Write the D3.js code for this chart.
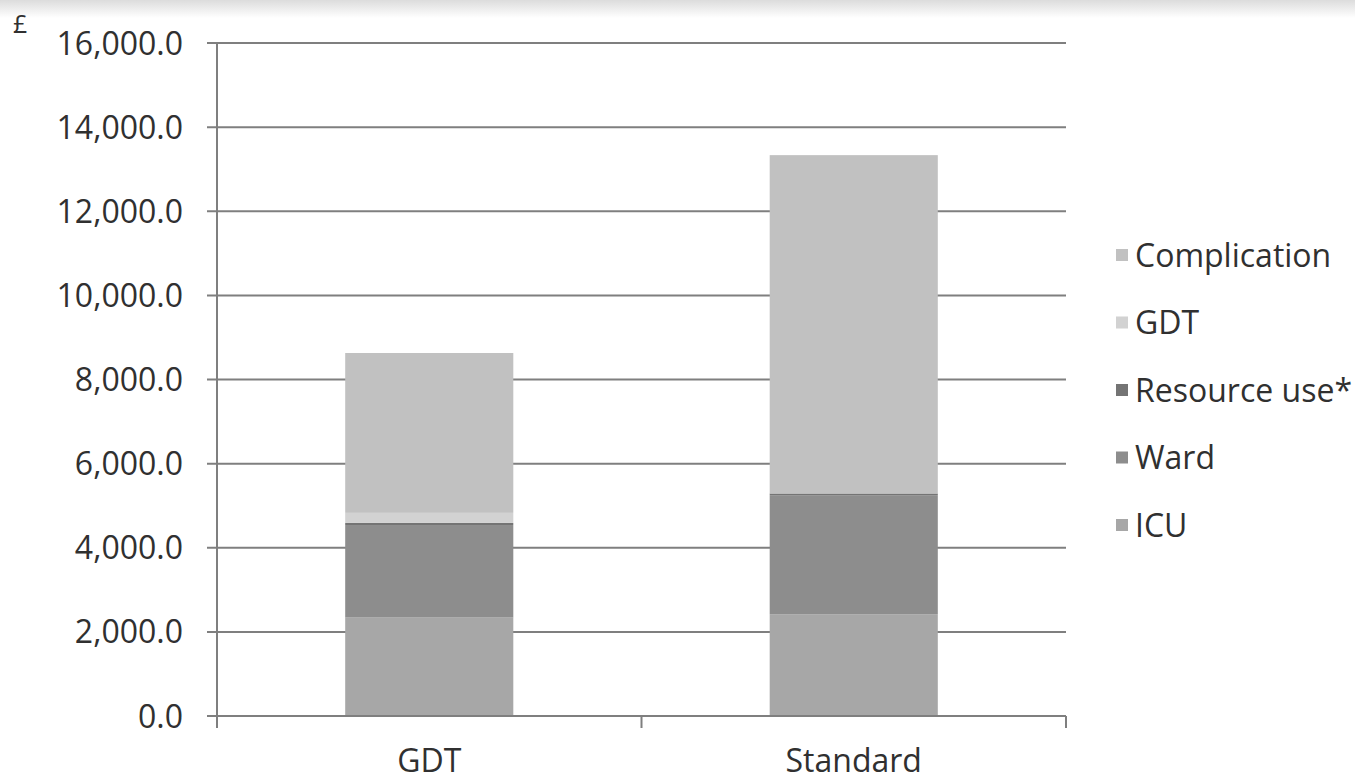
<!DOCTYPE html>
<html>
<head>
<meta charset="utf-8">
<script src="https://cdn.jsdelivr.net/npm/d3@7"></script>
<style>
  html, body { margin: 0; padding: 0; background: #fff; }
  svg { display: block; }
  text { font-family: "Open Sans", "Liberation Sans", sans-serif; fill: #303030; }
</style>
</head>
<body>
<svg id="chart" width="1355" height="782"></svg>
<script>
// ---- data ----
const categories = ["GDT", "Standard"];
const seriesNames = ["ICU", "Ward", "Resource use*", "GDT", "Complication"]; // bottom to top
const icu          = [2340, 2420];
const ward         = [2200, 2830];
const resourceUse  = [50, 40];
const gdtCost      = [240, 0];
const complication = [3800, 8044];
const yTicks = [0, 2000, 4000, 6000, 8000, 10000, 12000, 14000, 16000];
const seriesColors = ["#a7a7a7", "#8d8d8d", "#747474", "#d2d2d2", "#c1c1c1"];

// ---- build table ----
const seriesValues = [icu, ward, resourceUse, gdtCost, complication];
const table = categories.map((c, i) => {
  const row = { category: c };
  seriesNames.forEach((s, j) => row[s] = seriesValues[j][i]);
  return row;
});
const stacked = d3.stack().keys(seriesNames)(table);

const svg = d3.select("#chart");

// top shadow
const defs = svg.append("defs");
const grad = defs.append("linearGradient").attr("id", "topShade").attr("x1", 0).attr("y1", 0).attr("x2", 0).attr("y2", 1);
grad.append("stop").attr("offset", "0%").attr("stop-color", "#dcdcdc");
grad.append("stop").attr("offset", "100%").attr("stop-color", "#ffffff");
svg.append("rect").attr("x", 0).attr("y", 0).attr("width", 1355).attr("height", 18).attr("fill", "url(#topShade)");

const plotLeft = 217, plotRight = 1066, plotTop = 43, plotBottom = 716;

const x = d3.scaleBand().domain(categories).range([plotLeft, plotRight]).paddingInner(0.604).paddingOuter(0.302);
const step = x.step();
const y = d3.scaleLinear().domain([0, 16000]).range([plotBottom, plotTop]);

const lineColor = "#7f7f7f";

// gridlines + y tick marks
svg.append("g").selectAll("line").data(yTicks).join("line")
  .attr("x1", plotLeft - 10).attr("x2", plotRight)
  .attr("y1", d => y(d)).attr("y2", d => y(d))
  .attr("stroke", lineColor).attr("stroke-width", 2);

// y labels
svg.append("g").selectAll("text").data(yTicks).join("text")
  .attr("x", 183).attr("y", d => y(d)).attr("dy", "0.36em")
  .attr("text-anchor", "end").attr("font-size", 32)
  .text(d => d3.format(",.1f")(d));

// bars
svg.append("g").selectAll("g").data(stacked).join("g")
  .attr("fill", (d, i) => seriesColors[i])
  .selectAll("rect").data(d => d).join("rect")
  .attr("x", d => x(d.data.category))
  .attr("width", x.bandwidth())
  .attr("y", d => y(d[1]))
  .attr("height", d => Math.max(0, y(d[0]) - y(d[1])));

// y axis line
svg.append("line").attr("x1", plotLeft).attr("x2", plotLeft).attr("y1", plotTop).attr("y2", plotBottom + 12)
  .attr("stroke", lineColor).attr("stroke-width", 2);
// x axis line
svg.append("line").attr("x1", plotLeft - 10).attr("x2", plotRight).attr("y1", plotBottom).attr("y2", plotBottom)
  .attr("stroke", lineColor).attr("stroke-width", 2);
// category tick marks at band boundaries
const bounds = categories.map(c => x(c) - (step - x.bandwidth()) / 2).concat([plotRight]);
svg.append("g").selectAll("line").data(bounds).join("line")
  .attr("x1", d => d).attr("x2", d => d)
  .attr("y1", plotBottom).attr("y2", plotBottom + 12)
  .attr("stroke", lineColor).attr("stroke-width", 2);

// category labels
svg.append("g").selectAll("text").data(categories).join("text")
  .attr("x", d => x(d) + x.bandwidth() / 2).attr("y", 772)
  .attr("text-anchor", "middle").attr("font-size", 32)
  .text(d => d);

// currency label
svg.append("text").attr("x", 13).attr("y", 33).attr("font-size", 25).text("£");

// legend (top to bottom reversed order)
const legendItems = seriesNames.map((s, i) => ({ name: s, color: seriesColors[i] })).reverse();
const legendY = d3.scalePoint().domain(legendItems.map(d => d.name)).range([255, 525]);
const lg = svg.append("g").selectAll("g").data(legendItems).join("g");
lg.append("rect").attr("x", 1116).attr("y", d => legendY(d.name) - 6).attr("width", 12).attr("height", 12)
  .attr("fill", d => d.color);
lg.append("text").attr("x", 1135).attr("y", d => legendY(d.name)).attr("dy", "0.36em")
  .attr("font-size", 32).text(d => d.name);
</script>
</body>
</html>
